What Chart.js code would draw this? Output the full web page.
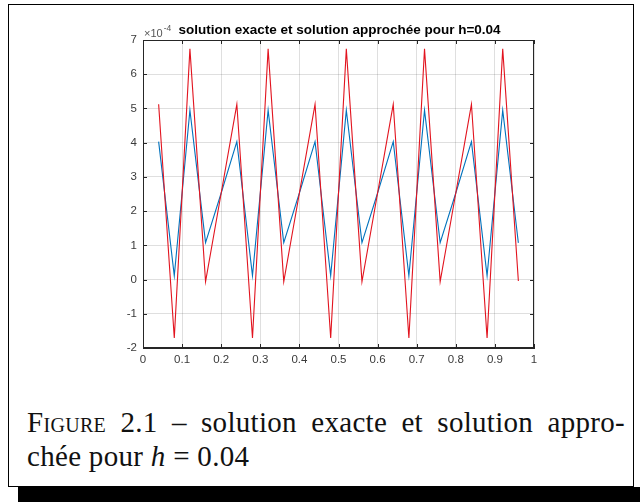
<!DOCTYPE html>
<html>
<head>
<meta charset="utf-8">
<script src="https://cdn.jsdelivr.net/npm/chart.js@4"></script>
<style>
html, body { margin: 0; padding: 0; background: #fff; }
body { width: 640px; height: 502px; position: relative; overflow: hidden; }
#frame { position: absolute; left: 8px; top: 4px; width: 624px; height: 481px; border: 1.5px solid #000; }
#shadow { position: absolute; left: 18px; top: 487px; width: 622px; height: 15px; background: #000; }
#chart { position: absolute; left: 0; top: 0; }
#caption { position: absolute; left: 27px; top: 405px; width: 598px; font-family: "Liberation Serif", serif; font-size: 29px; letter-spacing: 0.3px; line-height: 34px; color: #111; }
.l1 { text-align: justify; text-align-last: justify; white-space: nowrap; }
.sc { font-variant: small-caps; }
</style>
</head>
<body>
<div id="frame"></div>
<div id="shadow"></div>
<canvas id="chart" width="640" height="400"></canvas>
<div id="caption">
  <div class="l1"><span class="sc">Figure</span> 2.1 – solution exacte et solution appro-</div>
  <div>chée pour <i>h</i> = 0.04</div>
</div>
<script>
// ── Data ──────────────────────────────────────────────────────────────
const xValues   = [0.04, 0.08, 0.12, 0.16, 0.20, 0.24, 0.28, 0.32, 0.36, 0.40, 0.44, 0.48,
                   0.52, 0.56, 0.60, 0.64, 0.68, 0.72, 0.76, 0.80, 0.84, 0.88, 0.92, 0.96];
// valeurs en unités de 1e-4
const exacte    = [4.03, 0.11, 4.95, 1.08, 2.53, 4.03, 0.11, 4.95, 1.08, 2.53, 4.03, 0.11,
                   4.95, 1.08, 2.53, 4.03, 0.11, 4.95, 1.08, 2.53, 4.03, 0.11, 4.95, 1.07];
const approchee = [5.12, -1.71, 6.74, -0.06, 2.53, 5.12, -1.71, 6.74, -0.06, 2.53, 5.12, -1.71,
                   6.74, -0.06, 2.53, 5.12, -1.71, 6.74, -0.06, 2.53, 5.12, -1.71, 6.74, -0.04];

const xTicks      = [0, 0.1, 0.2, 0.3, 0.4, 0.5, 0.6, 0.7, 0.8, 0.9, 1];
const xTickLabels = ['0', '0.1', '0.2', '0.3', '0.4', '0.5', '0.6', '0.7', '0.8', '0.9', '1'];
const yTicks      = [-2, -1, 0, 1, 2, 3, 4, 5, 6, 7];
const yTickLabels = ['-2', '-1', '0', '1', '2', '3', '4', '5', '6', '7'];

const TITLE    = 'solution exacte et solution approchée pour h=0.04';
const AXIS_COL = '#262626';
const GRID_COL = 'rgba(38,38,38,0.15)';
const TICK_FONT = { family: '"Liberation Sans", Arial, sans-serif', size: 11.5 };

// ── Boîte MATLAB : cadre, petites graduations internes, titre, exposant ─
const matlabBox = {
    id: 'matlabBox',
    afterDraw(chart) {
        const { ctx, chartArea: a, scales } = chart;
        const t = 4;
        ctx.save();
        ctx.strokeStyle = AXIS_COL;
        ctx.lineWidth = 1;
        ctx.strokeRect(a.left + 0.5, a.top + 0.5, a.right - a.left - 1, a.bottom - a.top - 1);
        ctx.beginPath();
        xTicks.forEach(v => {
            const px = Math.round(scales.x.getPixelForValue(v)) + 0.5;
            ctx.moveTo(px, a.bottom); ctx.lineTo(px, a.bottom - t);
            ctx.moveTo(px, a.top);    ctx.lineTo(px, a.top + t);
        });
        yTicks.forEach(v => {
            const py = Math.round(scales.y.getPixelForValue(v)) + 0.5;
            ctx.moveTo(a.left, py);  ctx.lineTo(a.left + t, py);
            ctx.moveTo(a.right, py); ctx.lineTo(a.right - t, py);
        });
        ctx.stroke();

        // titre centré sur la zone de tracé
        ctx.fillStyle = '#000';
        ctx.font = 'bold 13.5px "Liberation Sans", Arial, sans-serif';
        ctx.textAlign = 'center';
        ctx.textBaseline = 'alphabetic';
        ctx.fillText(TITLE, (a.left + a.right) / 2 + 1, a.top - 6);

        // facteur d'échelle ×10^-4
        ctx.fillStyle = '#555';
        ctx.textAlign = 'left';
        ctx.font = '11px "Liberation Sans", Arial, sans-serif';
        const base = '×10';
        ctx.fillText(base, a.left + 1, a.top - 3);
        const w = ctx.measureText(base).width;
        ctx.font = '8.5px "Liberation Sans", Arial, sans-serif';
        ctx.fillText('-4', a.left + 1 + w + 1, a.top - 9);
        ctx.restore();
    }
};

// ── Chart ─────────────────────────────────────────────────────────────
new Chart(document.getElementById('chart'), {
    type: 'line',
    data: {
        datasets: [
            {
                label: 'exacte',
                data: xValues.map((x, i) => ({ x, y: exacte[i] })),
                borderColor: '#0072BD', borderWidth: 1.1, pointRadius: 0, tension: 0, order: 1
            },
            {
                label: 'approchée',
                data: xValues.map((x, i) => ({ x, y: approchee[i] })),
                borderColor: '#e2141f', borderWidth: 1.1, pointRadius: 0, tension: 0, order: 0
            }
        ]
    },
    options: {
        responsive: false,
        animation: false,
        layout: { padding: { left: 0, top: 40, right: 106, bottom: 0 } },
        plugins: { legend: { display: false }, tooltip: { enabled: false } },
        scales: {
            x: {
                type: 'linear', min: 0, max: 1,
                afterBuildTicks: s => { s.ticks = xTicks.map(v => ({ value: v })); },
                afterFit: s => { s.height = 52; },
                ticks: { callback: (v, i) => xTickLabels[i], color: '#3a3a3a', font: TICK_FONT, padding: 5, maxRotation: 0, autoSkip: false },
                grid: { color: GRID_COL, drawTicks: false },
                border: { color: AXIS_COL, width: 1 }
            },
            y: {
                type: 'linear', min: -2, max: 7,
                afterBuildTicks: s => { s.ticks = yTicks.map(v => ({ value: v })); },
                afterFit: s => { s.width = 143; },
                ticks: { callback: (v, i) => yTickLabels[i], color: '#3a3a3a', font: TICK_FONT, padding: 6, autoSkip: false },
                grid: { color: GRID_COL, drawTicks: false },
                border: { color: AXIS_COL, width: 1 }
            }
        }
    },
    plugins: [matlabBox]
});
</script>
</body>
</html>
